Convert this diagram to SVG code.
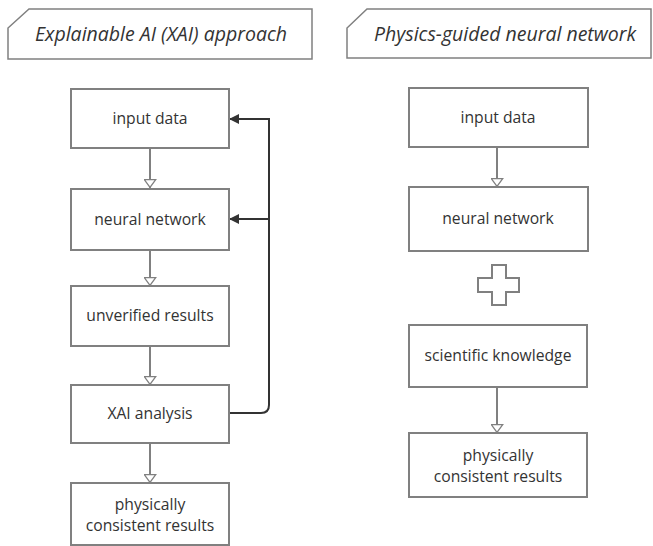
<svg xmlns="http://www.w3.org/2000/svg" width="653" height="546" viewBox="0 0 653 546">
<defs>
<style>
.box{fill:#fff;stroke:#808080;stroke-width:2}
.note{fill:#fff;stroke:#808080;stroke-width:1.5}
.t{font-family:"Open Sans","Noto Sans","DejaVu Sans",sans-serif;font-size:15.7px;fill:#333;text-anchor:middle}
.title{font-family:"Open Sans","Noto Sans","DejaVu Sans",sans-serif;font-size:19.5px;font-style:italic;fill:#333}
.flow{fill:none;stroke:#808080;stroke-width:2}
.fb{fill:none;stroke:#333;stroke-width:2}
</style>
<marker id="open" viewBox="0 0 9 13" refX="9" refY="6.5" markerWidth="9" markerHeight="13" markerUnits="userSpaceOnUse" orient="auto">
<path d="M0.6,0.8 L8.4,6.5 L0.6,12.2 Z" fill="#fff" stroke="#808080" stroke-width="1.3"/>
</marker>
<marker id="solid" viewBox="0 0 10 10" refX="10" refY="5" markerWidth="10" markerHeight="10" markerUnits="userSpaceOnUse" orient="auto">
<path d="M0,0 L10,5 L0,10 Z" fill="#333"/>
</marker>
</defs>

<g id="note-xai">
<path class="note" d="M29,9 H312 V59 H8 V28 Z"/>
<text class="title" x="35" y="41">Explainable AI (XAI) approach</text>
</g>
<g id="note-pgnn">
<path class="note" d="M367,9 H651 V58 H347 V28 Z"/>
<text class="title" x="374" y="41">Physics-guided neural network</text>
</g>

<g id="connectors">
<line class="flow" x1="150" y1="148" x2="150" y2="188" marker-end="url(#open)"/>
<line class="flow" x1="150" y1="250" x2="150" y2="286" marker-end="url(#open)"/>
<line class="flow" x1="150" y1="346" x2="150" y2="385" marker-end="url(#open)"/>
<line class="flow" x1="150" y1="443" x2="150" y2="483" marker-end="url(#open)"/>
<path class="fb" d="M229,413 H261 Q269,413 269,405 V119 H229" marker-end="url(#solid)"/>
<path class="fb" d="M269,219 H229" marker-end="url(#solid)"/>
<line class="flow" x1="497" y1="147" x2="497" y2="187" marker-end="url(#open)"/>
<line class="flow" x1="497" y1="387" x2="497" y2="433" marker-end="url(#open)"/>
</g>

<g id="l-input">
<rect class="box" x="71" y="89" width="158" height="59"/>
<text class="t" x="150" y="124">input data</text>
</g>
<g id="l-nn">
<rect class="box" x="71" y="189" width="158" height="61"/>
<text class="t" x="150" y="225">neural network</text>
</g>
<g id="l-unverified">
<rect class="box" x="71" y="286" width="158" height="60"/>
<text class="t" x="150" y="321">unverified results</text>
</g>
<g id="l-xai">
<rect class="box" x="71" y="385" width="158" height="58"/>
<text class="t" x="150" y="419">XAI analysis</text>
</g>
<g id="l-phys">
<rect class="box" x="71" y="483" width="158" height="62"/>
<text class="t" x="150" y="510">physically</text>
<text class="t" x="150" y="531">consistent results</text>
</g>

<g id="r-input">
<rect class="box" x="409" y="88" width="179" height="59"/>
<text class="t" x="498" y="123">input data</text>
</g>
<g id="r-nn">
<rect class="box" x="409" y="187" width="179" height="64"/>
<text class="t" x="498" y="224">neural network</text>
</g>
<g id="plus">
<path class="box" stroke-width="1.5" d="M492,265 H506 V278 H519 V292 H506 V305 H492 V292 H478 V278 H492 Z"/>
</g>
<g id="r-sci">
<rect class="box" x="409" y="325" width="178" height="62"/>
<text class="t" x="498" y="361">scientific knowledge</text>
</g>
<g id="r-phys">
<rect class="box" x="409" y="433" width="178" height="64"/>
<text class="t" x="498" y="461">physically</text>
<text class="t" x="498" y="482">consistent results</text>
</g>
</svg>
